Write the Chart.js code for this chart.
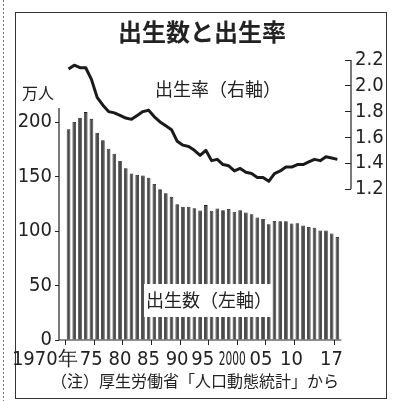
<!DOCTYPE html>
<html><head><meta charset="utf-8">
<script src="https://cdn.jsdelivr.net/npm/chart.js@4"></script>
<style>html,body{margin:0;padding:0;background:#fff;}canvas{display:block;}</style>
</head><body>
<canvas id="c" width="395" height="401"></canvas>
<script>
const years = [1970,1971,1972,1973,1974,1975,1976,1977,1978,1979,
  1980,1981,1982,1983,1984,1985,1986,1987,1988,1989,
  1990,1991,1992,1993,1994,1995,1996,1997,1998,1999,
  2000,2001,2002,2003,2004,2005,2006,2007,2008,2009,
  2010,2011,2012,2013,2014,2015,2016,2017];
// 出生数（万人）
const births = [193.4,200.1,203.9,209.2,203.0,190.1,183.3,175.5,170.9,164.3,
  157.7,152.9,151.5,150.9,149.0,143.2,138.3,134.7,131.4,124.7,
  122.2,122.3,120.9,118.8,123.8,118.7,120.7,119.2,120.3,117.8,
  119.1,117.1,115.4,112.4,111.1,106.3,109.3,109.0,109.1,107.0,
  107.1,105.1,103.7,103.0,100.4,100.6,97.7,94.6];
// 出生率
const birthRate = [2.13,2.16,2.14,2.14,2.05,1.91,1.85,1.80,1.79,1.77,
  1.75,1.74,1.77,1.80,1.81,1.76,1.72,1.69,1.66,1.57,
  1.54,1.53,1.50,1.46,1.50,1.42,1.43,1.39,1.38,1.34,
  1.36,1.33,1.32,1.29,1.29,1.26,1.32,1.34,1.37,1.37,
  1.39,1.39,1.41,1.43,1.42,1.45,1.44,1.43];
const labelYears = [1970,1975,1980,1985,1990,1995,2000,2005,2010,2017];
const yearTickLabels = ['1970年','75','80','85','90','95','2000','05','10','17'];
const birthTicks = [0,50,100,150,200];
const rateTicks = [1.2,1.4,1.6,1.8,2.0,2.2];

const NARROW = '"Liberation Sans Narrow","Arial Narrow","DejaVu Sans Condensed","Liberation Sans",sans-serif';
const JP = '"Noto Sans CJK JP","Noto Sans CJK SC",sans-serif';
const INK = '#222';

const deco = {
  id: 'deco',
  beforeDraw(chart) {
    const ctx = chart.ctx;
    ctx.save();
    ctx.fillStyle = '#fff';
    ctx.fillRect(0, 0, chart.width, chart.height);
    ctx.strokeStyle = '#777';
    ctx.lineWidth = 1;
    ctx.setLineDash([2, 2]);
    ctx.beginPath(); ctx.moveTo(3.5, 0); ctx.lineTo(3.5, chart.height); ctx.stroke();
    ctx.setLineDash([]);
    ctx.strokeStyle = '#333';
    ctx.strokeRect(15.5, 12.5, 371, 386);
    ctx.fillStyle = INK;
    ctx.textBaseline = 'middle';
    ctx.textAlign = 'center';
    ctx.font = 'bold 24px ' + JP;
    ctx.fillText('出生数と出生率', 202, 32);
    ctx.font = '18px ' + JP;
    ctx.fillText('出生率（右軸）', 218, 89);
    ctx.font = '16px ' + JP;
    ctx.fillText('万人', 38, 93);
    ctx.fillText('（注）厚生労働省「人口動態統計」から', 195, 381);
    ctx.restore();
  },
  afterDatasetsDraw(chart) {
    const ctx = chart.ctx;
    ctx.save();
    ctx.fillStyle = '#fff';
    ctx.fillRect(144, 284, 128, 33);
    ctx.fillStyle = INK;
    ctx.font = '18px ' + JP;
    ctx.textAlign = 'center';
    ctx.textBaseline = 'middle';
    ctx.fillText('出生数（左軸）', 209, 300);
    ctx.restore();
  },
  afterDraw(chart) {
    const ctx = chart.ctx;
    const x = chart.scales.x, y = chart.scales.y, y1 = chart.scales.y1;
    const area = chart.chartArea;
    ctx.save();
    ctx.strokeStyle = INK;
    ctx.lineWidth = 1.2;
    ctx.beginPath();
    ctx.moveTo(area.left, y.getPixelForValue(0));
    ctx.lineTo(area.left, y.getPixelForValue(213));
    ctx.stroke();
    ctx.beginPath();
    ctx.moveTo(area.left, y.getPixelForValue(0));
    ctx.lineTo(x.getPixelForValue(2017.5) + 1, y.getPixelForValue(0));
    ctx.stroke();
    const rx = y1.left + 6;
    ctx.beginPath();
    ctx.moveTo(rx, y1.getPixelForValue(1.2));
    ctx.lineTo(rx, y1.getPixelForValue(2.2));
    ctx.stroke();
    ctx.fillStyle = INK;
    ctx.font = '20px ' + NARROW;
    ctx.textBaseline = 'middle';
    labelYears.forEach((yr, i) => {
      const px = x.getPixelForValue(yr - 0.5);
      const t = yearTickLabels[i];
      ctx.textAlign = 'center';
      if (i === 0) {
        ctx.textAlign = 'right';
        ctx.fillText(t, px + 12, 360);
      } else if (t === '95') {
        ctx.fillText(t, px - 6, 360);
      } else if (t === '2000') {
        ctx.fillText(t, px - 5, 360, 27);
      } else if (t === '05') {
        ctx.fillText(t, px - 5, 360);
      } else {
        ctx.fillText(t, px - 3, 360);
      }
    });
    ctx.restore();
  }
};

new Chart(document.getElementById('c'), {
  type: 'bar',
  data: {
    datasets: [
      {
        type: 'line',
        label: '出生率',
        data: years.map((yr, i) => ({ x: yr, y: birthRate[i] })),
        yAxisID: 'y1',
        borderColor: '#1a1a1a',
        borderWidth: 3,
        pointRadius: 0,
        tension: 0,
        borderJoinStyle: 'round',
        order: 0
      },
      {
        type: 'bar',
        label: '出生数',
        data: years.map((yr, i) => ({ x: yr, y: births[i] })),
        yAxisID: 'y',
        backgroundColor: '#4a4a4a',
        borderColor: '#1e1e1e',
        borderWidth: 0.8,
        categoryPercentage: 1,
        barPercentage: 0.64,
        order: 1
      }
    ]
  },
  options: {
    responsive: false,
    animation: false,
    devicePixelRatio: 1,
    layout: { padding: { left: 0, right: 0, top: 60, bottom: 0 } },
    plugins: { legend: { display: false }, tooltip: { enabled: false }, title: { display: false } },
    scales: {
      x: {
        type: 'linear',
        min: 1968.33,
        max: 2018.33,
        offset: false,
        afterBuildTicks: s => { s.ticks = labelYears.map(v => ({ value: v - 0.5 })); },
        afterFit: s => { s.height = 61; },
        ticks: { display: false },
        grid: { offset: false, drawOnChartArea: false, drawTicks: true, tickLength: 5, color: INK, lineWidth: 1 },
        border: { display: false }
      },
      y: {
        position: 'left',
        min: 0,
        max: 257,
        afterBuildTicks: s => { s.ticks = birthTicks.map(v => ({ value: v })); },
        afterFit: s => { s.width = 59; },
        ticks: { color: INK, font: { family: NARROW, size: 20 }, padding: 3, callback: v => String(v) },
        grid: { drawOnChartArea: false, drawTicks: true, tickLength: 4, color: INK, lineWidth: 1 },
        border: { display: false }
      },
      y1: {
        position: 'right',
        min: 0.03,
        max: 2.2,
        afterBuildTicks: s => { s.ticks = rateTicks.map(v => ({ value: v })); },
        afterFit: s => { s.width = 50; },
        ticks: { color: INK, font: { family: NARROW, size: 20 }, padding: 4, callback: v => Number(v).toFixed(1) },
        grid: { drawOnChartArea: false, drawTicks: true, tickLength: 6, color: INK, lineWidth: 1 },
        border: { display: false }
      }
    }
  },
  plugins: [deco]
});
</script>
</body></html>
